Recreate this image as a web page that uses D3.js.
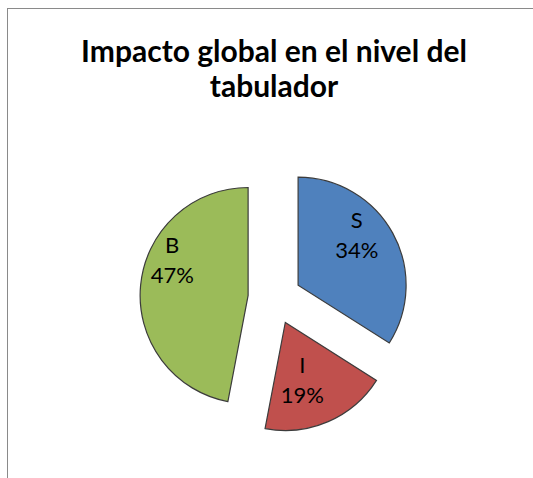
<!DOCTYPE html>
<html>
<head>
<meta charset="utf-8">
<script src="https://cdn.jsdelivr.net/npm/d3@7"></script>
<style>
  html, body { margin: 0; padding: 0; background: #fff; }
  svg { display: block; }
</style>
</head>
<body>
<div id="chart"></div>
<script>
// Pie slices, clockwise from 12 o'clock
const categories = ["S", "I", "B"];
const values = [34, 19, 47];
const colors = ["#4F81BD", "#C0504D", "#9BBB59"];
const titleLines = ["Impacto global en el nivel del", "tabulador"];

const width = 533, height = 478;
const cx = 274.7, cy = 298;       // pie centre before explosion
const radius = 108;
const explode = 26.7;             // how far each slice is pulled out

// where each data label sits: fraction of the slice's sweep, fraction of the radius
const labelPlacement = [
  { t: 0.40, k: 0.72 },
  { t: 0.60, k: 0.55 },
  { t: 0.62, k: 0.78 }
];

const svg = d3.select("#chart").append("svg")
  .attr("width", width)
  .attr("height", height);

// chart area frame (runs past the right and bottom edges)
svg.append("rect")
  .attr("x", 7.5).attr("y", 8.5)
  .attr("width", width + 20).attr("height", height + 20)
  .attr("fill", "#fff")
  .attr("stroke", "#8a8a8a")
  .attr("stroke-width", 1);

svg.append("text")
  .attr("text-anchor", "middle")
  .attr("font-family", "Lato, 'Open Sans', sans-serif")
  .attr("font-weight", "bold")
  .attr("font-size", 30)
  .attr("fill", "#000")
  .selectAll("tspan")
  .data(titleLines)
  .join("tspan")
  .attr("x", 274)
  .attr("y", (d, i) => 62 + i * 35)
  .text(d => d);

const data = categories.map((c, i) => ({ name: c, value: values[i], color: colors[i] }));
const total = d3.sum(values);

const pie = d3.pie().value(d => d.value).sort(null);
const arcs = pie(data);
const arc = d3.arc().innerRadius(0).outerRadius(radius);

const g = svg.append("g").attr("transform", `translate(${cx},${cy})`);

const slice = g.selectAll("g.slice")
  .data(arcs)
  .join("g")
  .attr("class", "slice")
  .attr("transform", d => {
    const mid = (d.startAngle + d.endAngle) / 2;
    return `translate(${explode * Math.sin(mid)},${-explode * Math.cos(mid)})`;
  });

slice.append("path")
  .attr("d", arc)
  .attr("fill", d => d.data.color)
  .attr("stroke", "#3c3c3c")
  .attr("stroke-width", 1.2)
  .attr("stroke-linejoin", "miter");

const label = slice.append("text")
  .attr("text-anchor", "middle")
  .attr("font-family", "Lato, 'Open Sans', sans-serif")
  .attr("font-size", 22)
  .attr("fill", "#000")
  .attr("transform", (d, i) => {
    const p = labelPlacement[i];
    const a = d.startAngle + p.t * (d.endAngle - d.startAngle);
    const r = p.k * radius;
    return `translate(${r * Math.sin(a)},${-r * Math.cos(a)})`;
  });

label.append("tspan")
  .attr("x", 0).attr("y", -6)
  .text(d => d.data.name);
label.append("tspan")
  .attr("x", 0).attr("y", 24)
  .text(d => Math.round(d.data.value / total * 100) + "%");
</script>
</body>
</html>
